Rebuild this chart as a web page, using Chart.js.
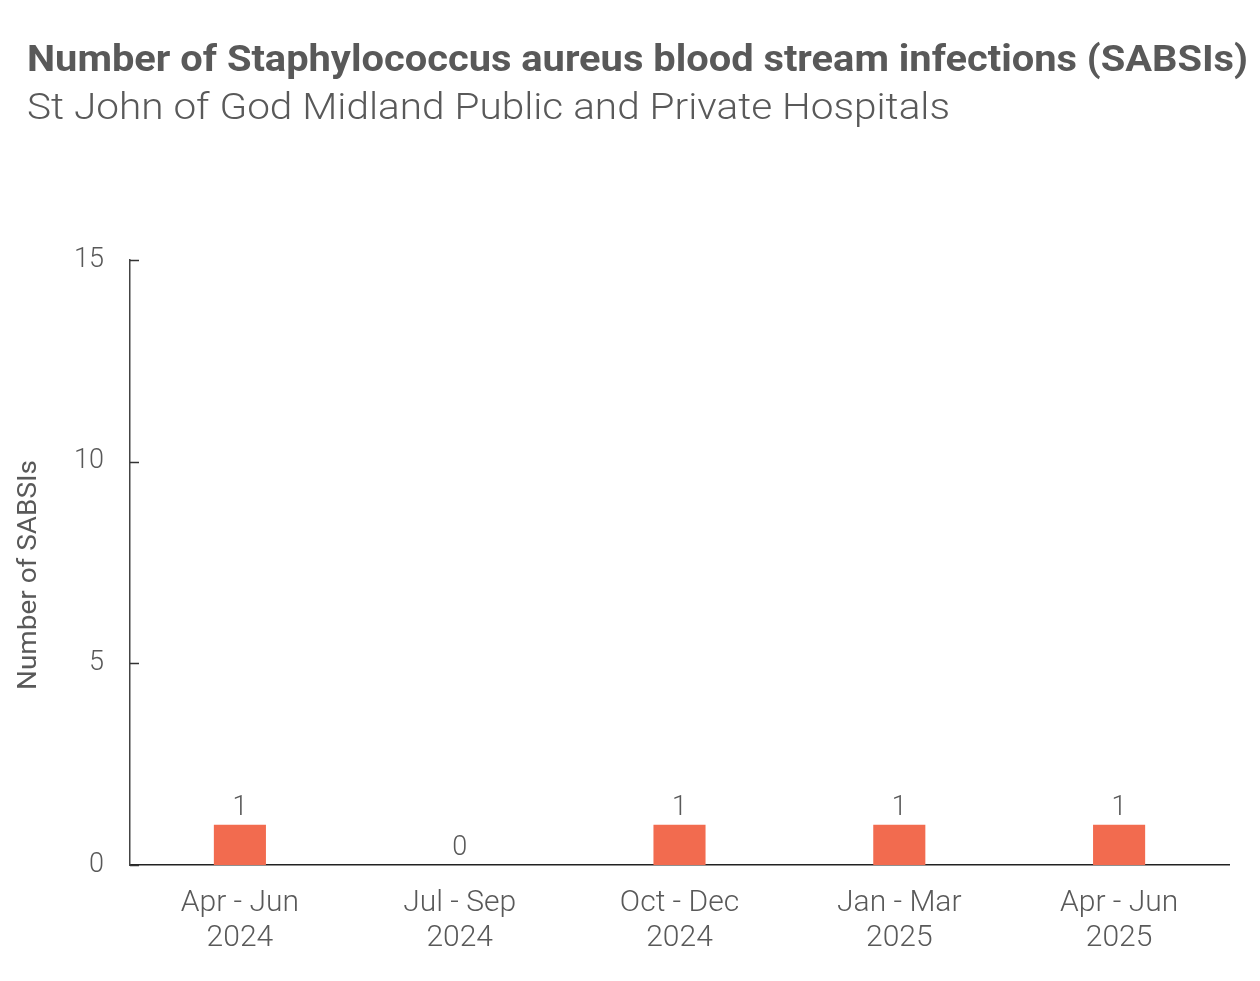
<!DOCTYPE html>
<html><head><meta charset="utf-8">
<script src="https://cdn.jsdelivr.net/npm/chart.js@4/dist/chart.umd.min.js"></script>
<style>html,body{margin:0;padding:0;background:#fff}#wrap{width:1260px;height:981px}</style>
</head><body><div id="wrap"><canvas id="c" width="1260" height="981"></canvas></div>
<script>
const titleText = "Number of Staphylococcus aureus blood stream infections (SABSIs)";
const subtitleText = "St John of God Midland Public and Private Hospitals";
const categories = [["Apr - Jun","2024"],["Jul - Sep","2024"],["Oct - Dec","2024"],["Jan - Mar","2025"],["Apr - Jun","2025"]];
const sabsiValues = [1,0,1,1,1];
const yTicks = [0,5,10,15];
const yAxisTitle = "Number of SABSIs";

const FONT = "Roboto, 'Noto Sans', sans-serif";
const GREY = "#595959";

const overlay = {
  id: 'overlay',
  afterDraw(chart) {
    const ctx = chart.ctx;
    ctx.save();
    function fitText(txt, x, y, font, targetW) {
      ctx.font = font;
      const w = ctx.measureText(txt).width;
      ctx.save();
      ctx.translate(x, y);
      ctx.scale(targetW / w, 1);
      ctx.fillText(txt, 0, 0);
      ctx.restore();
    }
    ctx.fillStyle = GREY;
    ctx.textBaseline = 'alphabetic';
    ctx.textAlign = 'left';
    fitText(titleText, 27, 71, "bold 36px " + FONT, 1221);
    fitText(subtitleText, 27, 119, "300 37px " + FONT, 923);
    const ys = chart.scales.y, xs = chart.scales.x;
    // y axis title
    ctx.save();
    ctx.translate(36, 575);
    ctx.rotate(-Math.PI / 2);
    ctx.textAlign = 'center';
    ctx.textBaseline = 'alphabetic';
    ctx.font = "400 25px " + FONT;
    const tw = ctx.measureText(yAxisTitle).width;
    ctx.scale(230 / tw, 1);
    ctx.fillText(yAxisTitle, 0, 0);
    ctx.restore();
    // y tick marks (inside)
    ctx.strokeStyle = "#333";
    ctx.lineWidth = 1.5;
    yTicks.forEach(v => {
      const py = Math.round(ys.getPixelForValue(v)) + 0.5;
      ctx.beginPath(); ctx.moveTo(xs.left, py); ctx.lineTo(xs.left + 9, py); ctx.stroke();
    });
    // value labels
    ctx.fillStyle = GREY;
    ctx.font = "300 27px " + FONT;
    ctx.textAlign = 'center';
    ctx.textBaseline = 'bottom';
    const meta = chart.getDatasetMeta(0);
    meta.data.forEach((bar, i) => {
      ctx.fillText(String(sabsiValues[i]), bar.x, bar.y - 3);
    });
    ctx.restore();
  }
};

new Chart(document.getElementById('c'), {
  type: 'bar',
  data: {
    labels: categories,
    datasets: [{ data: sabsiValues, backgroundColor: "#F26B4F", barPercentage: 0.237, categoryPercentage: 1 }]
  },
  options: {
    responsive: false,
    animation: false,
    devicePixelRatio: 1,
    layout: { padding: { left: 0, right: 31, top: 260, bottom: 0 } },
    plugins: { legend: { display: false }, tooltip: { enabled: false } },
    scales: {
      x: {
        grid: { display: false, drawTicks: false },
        border: { display: true, color: "#222", width: 1.5 },
        ticks: { color: GREY, font: { family: FONT, size: 30, weight: 300, lineHeight: 1.17 }, padding: 21, maxRotation: 0 },
        afterFit(s) { s.height = 116; }
      },
      y: {
        min: 0, max: 15,
        afterBuildTicks(s) { s.ticks = yTicks.map(v => ({ value: v })); },
        grid: { display: false, drawTicks: false },
        border: { display: true, color: "#444", width: 1.5 },
        ticks: { color: GREY, font: { family: FONT, size: 27, weight: 300 }, padding: 26 },
        afterFit(s) { s.width = 130; }
      }
    }
  },
  plugins: [overlay]
});
</script></body></html>
